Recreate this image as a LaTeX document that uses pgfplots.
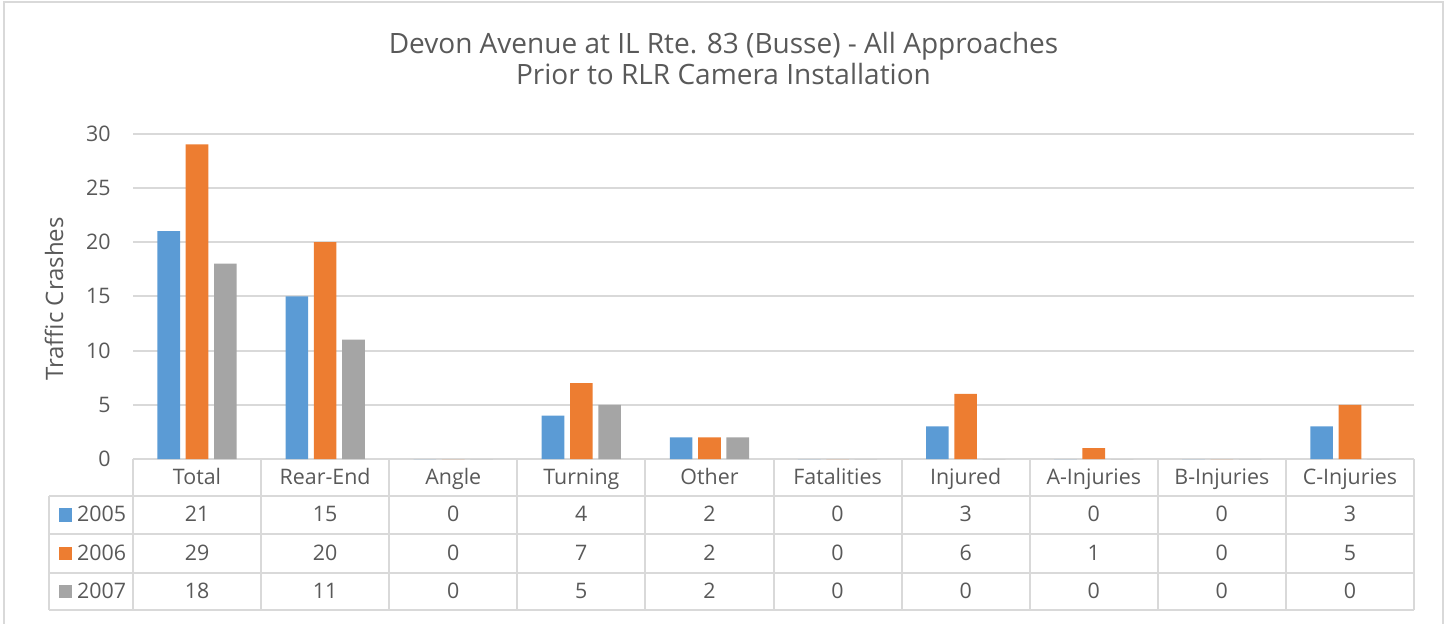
\documentclass[border=0pt]{standalone}
\usepackage{pgfplots}
\usepackage{pgfplotstable}
\pgfplotsset{compat=1.18}
\usepackage{fontspec}
\setmainfont{Open Sans}
\definecolor{cA}{HTML}{5B9BD5}
\definecolor{cB}{HTML}{ED7D31}
\definecolor{cC}{HTML}{A5A5A5}
\definecolor{txt}{HTML}{595959}
\definecolor{grd}{HTML}{D9D9D9}
\pgfplotstableread{
x a b c
0 21 29 18
1 15 20 11
2 0 0 0
3 4 7 5
4 2 2 2
5 0 0 0
6 3 6 0
7 0 1 0
8 0 0 0
9 3 5 0
}\data
\newcommand\tfont{\fontsize{10.7}{12.5}\selectfont}
\begin{document}
\begin{tikzpicture}
\useasboundingbox (0,0) rectangle (723.5pt,-311.5pt);
\draw[grd, line width=0.75pt] (2pt,-1pt) rectangle (721.5pt,-330pt);
\node[anchor=base, text=txt, font=\fontsize{14}{16}\selectfont, inner sep=0pt] at (361.75pt,-26.5pt) {Devon Avenue at IL Rte. 83 (Busse) - All Approaches};
\node[anchor=base, text=txt, font=\fontsize{14}{16}\selectfont, inner sep=0pt] at (361.75pt,-42pt) {Prior to RLR Camera Installation};
\node[anchor=base, rotate=90, text=txt, font=\fontsize{12}{14}\selectfont, inner sep=0pt] at (31.5pt,-149.5pt) {Traffic Crashes};
\begin{axis}[
  at={(66.5pt,-229.5pt)}, anchor=south west,
  x=64.05pt, y=5.425pt,
  xmin=-0.5, xmax=9.5, ymin=0, ymax=30,
  clip=false,
  axis line style={draw=none},
  tick style={draw=none},
  ymajorgrids, grid style={grd, line width=1pt},
  ytick={0,5,...,30},
  xtick={0,...,9},
  xticklabels={Total,Rear-End,Angle,Turning,Other,Fatalities,Injured,A-Injuries,B-Injuries,C-Injuries},
  xticklabel style={anchor=base, inner sep=0pt, yshift=-12.65pt, text=txt, font=\tfont},
  yticklabel style={anchor=east, inner sep=0pt, xshift=-11pt, text=txt, font=\tfont},
  /pgf/number format/assume math mode=true,
]
\addplot[ybar, fill=cA, draw=none, bar width=0.1765, bar shift=-0.221] table[x=x,y=a]{\data};
\addplot[ybar, fill=cB, draw=none, bar width=0.1765, bar shift=0] table[x=x,y=b]{\data};
\addplot[ybar, fill=cC, draw=none, bar width=0.1765, bar shift=0.221] table[x=x,y=c]{\data};
% data table rows
\pgfplotsset{every node near coord/.append style={anchor=base, inner sep=0pt, text=txt, font=\tfont}}
\addplot[draw=none, mark=none, nodes near coords, point meta=explicit symbolic] table[x=x, y expr=-5.78, meta=a]{\data};
\addplot[draw=none, mark=none, nodes near coords, point meta=explicit symbolic] table[x=x, y expr=-9.31, meta=b]{\data};
\addplot[draw=none, mark=none, nodes near coords, point meta=explicit symbolic] table[x=x, y expr=-12.84, meta=c]{\data};
% table grid
\pgfplotsinvokeforeach{-0.5,0.5,1.5,2.5,3.5,4.5,5.5,6.5,7.5,8.5,9.5}{\draw[grd, line width=1pt] (axis cs:#1,0) -- (axis cs:#1,-13.96);}
\draw[grd, line width=1pt] (axis cs:-1.153,-3.38) -- (axis cs:-1.153,-13.96);
\pgfplotsinvokeforeach{-3.38,-6.94,-10.48,-13.96}{\draw[grd, line width=1pt] (axis cs:-1.153,#1) -- (axis cs:9.5,#1);}
\node[anchor=base west, inner sep=0pt, text=txt, font=\tfont] at (axis cs:-1.083,-5.78) {\textcolor{cA}{\rule{6.7pt}{6.7pt}}\hspace{2.5pt}2005};
\node[anchor=base west, inner sep=0pt, text=txt, font=\tfont] at (axis cs:-1.083,-9.31) {\textcolor{cB}{\rule{6.7pt}{6.7pt}}\hspace{2.5pt}2006};
\node[anchor=base west, inner sep=0pt, text=txt, font=\tfont] at (axis cs:-1.083,-12.84) {\textcolor{cC}{\rule{6.7pt}{6.7pt}}\hspace{2.5pt}2007};
\end{axis}
\end{tikzpicture}
\end{document}
